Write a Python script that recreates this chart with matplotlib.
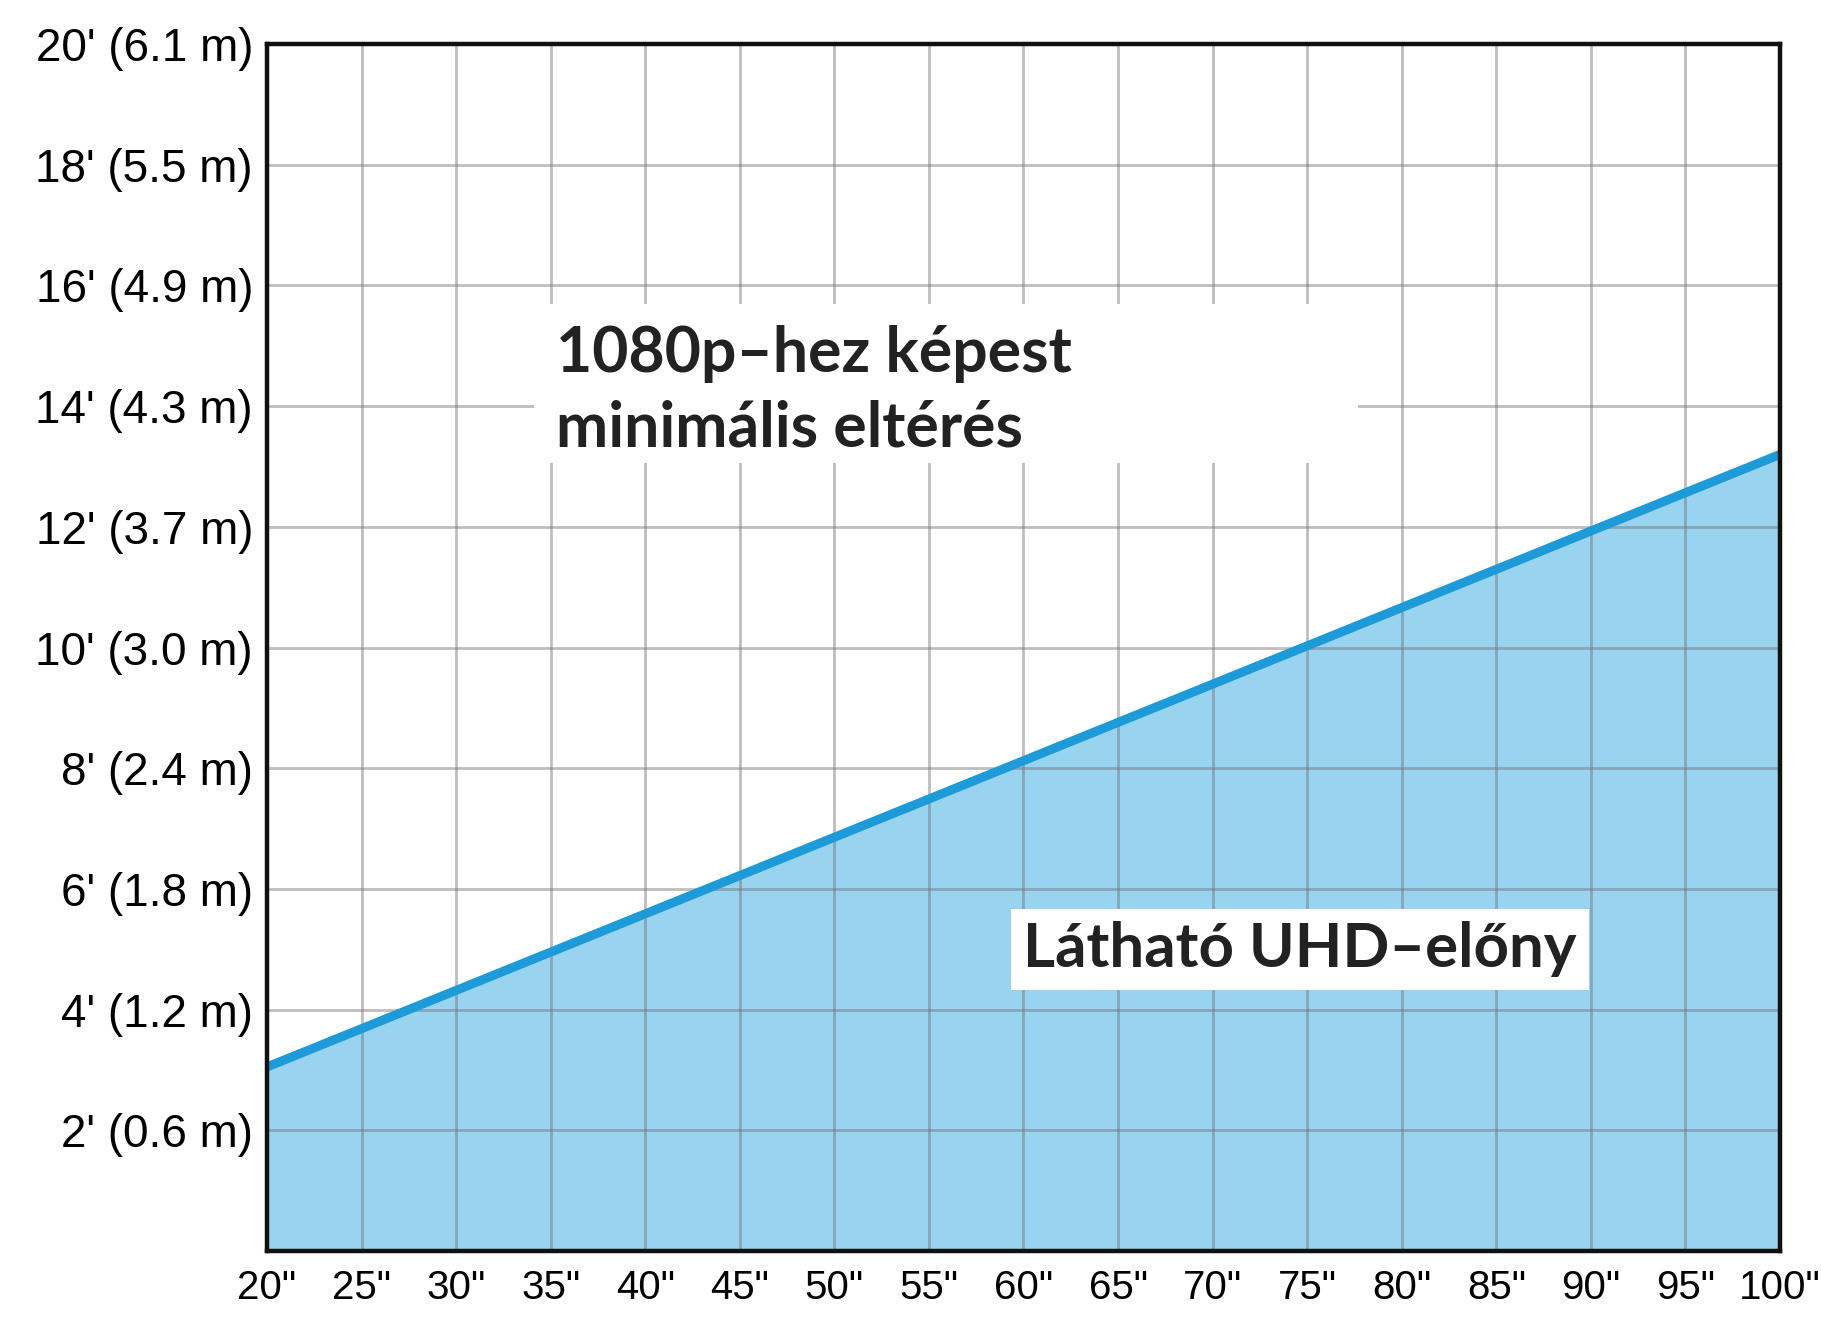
import matplotlib
matplotlib.use("Agg")
import matplotlib.pyplot as plt
from matplotlib.patches import Rectangle

# screen size (inches) vs. distance where UHD becomes visible (feet)
sizes = [20, 100]
distance_ft = [3.05, 13.2]

x_ticks = [20, 25, 30, 35, 40, 45, 50, 55, 60, 65, 70, 75, 80, 85, 90, 95, 100]
x_labels = ['20"', '25"', '30"', '35"', '40"', '45"', '50"', '55"', '60"', '65"',
            '70"', '75"', '80"', '85"', '90"', '95"', '100"']
y_ticks = [2, 4, 6, 8, 10, 12, 14, 16, 18, 20]
y_labels = ["2' (0.6 m)", "4' (1.2 m)", "6' (1.8 m)", "8' (2.4 m)", "10' (3.0 m)",
            "12' (3.7 m)", "14' (4.3 m)", "16' (4.9 m)", "18' (5.5 m)", "20' (6.1 m)"]

label_top = "1080p–hez képest\nminimális eltérés"
label_bottom = "Látható UHD–előny"

fig = plt.figure(figsize=(18.21, 13.23), dpi=100)
ax = fig.add_axes([0.1466, 0.0544, 0.8309, 0.9123])

ax.fill_between(sizes, distance_ft, 0, color="#98d4f0", zorder=1, linewidth=0)
ax.plot(sizes, distance_ft, color="#1d9ad8", linewidth=6.5, zorder=4,
        solid_capstyle="butt")

ax.set_xlim(20, 100)
ax.set_ylim(0, 20)
ax.set_xticks(x_ticks)
ax.set_xticklabels(x_labels, fontfamily="Liberation Sans", fontsize=29)
ax.set_yticks(y_ticks)
ax.set_yticklabels(y_labels, fontfamily="Liberation Sans", fontsize=33)
ax.tick_params(length=0, pad=10)
ax.tick_params(axis="x", pad=13)

ax.grid(True, color="#707070", alpha=0.45, linewidth=2, zorder=2)
ax.set_axisbelow(False)
for s in ax.spines.values():
    s.set_linewidth(3.2)
    s.set_color("#111111")
    s.set_zorder(6)

# white patch behind the upper label that breaks the grid
ax.add_patch(Rectangle((34.1, 13.05), 43.6, 2.65, facecolor="white",
                       edgecolor="none", zorder=3))
ax.text(35.3, 15.35, label_top, fontfamily="Lato", fontweight="bold", fontsize=45,
        color="#222222", va="top", ha="left", linespacing=1.36, zorder=5)
ax.text(60.0, 5.0, label_bottom, fontfamily="Lato", fontweight="bold", fontsize=44.5,
        color="#222222", va="center", ha="left", zorder=5,
        bbox=dict(facecolor="white", edgecolor="none", pad=9))

fig.savefig("out.png", dpi=100)
